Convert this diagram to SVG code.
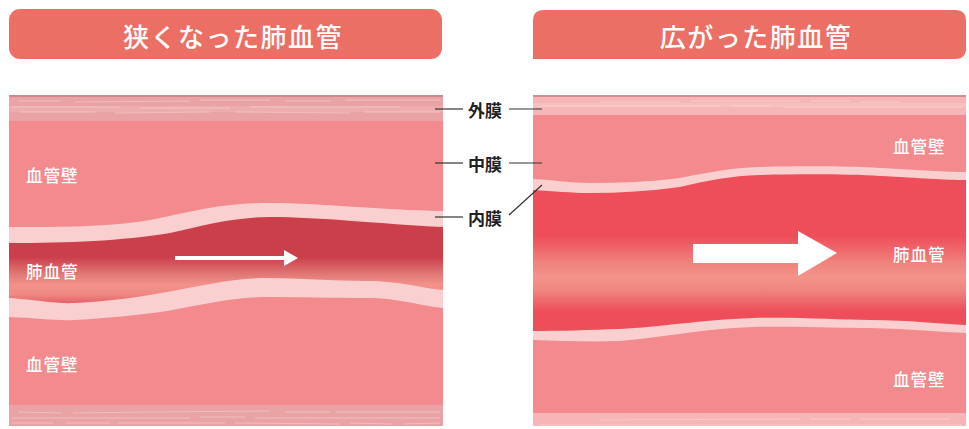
<svg xmlns="http://www.w3.org/2000/svg" width="969" height="429" viewBox="0 0 969 429">
  <style>
    .title { fill: #EB6F64; }
    .title-text { font-family: "Noto Sans CJK JP", "Noto Sans", sans-serif; font-size: 26px; font-weight: 500; fill: #FFFFFF; text-anchor: middle; dominant-baseline: central; letter-spacing: 1.5px; }
    .tissue-label { font-family: "Noto Sans CJK JP", "Noto Sans", sans-serif; font-size: 16.5px; font-weight: 500; fill: #FFFFFF; dominant-baseline: central; letter-spacing: 1px; }
    .layer-label { font-family: "Noto Sans CJK JP", "Noto Sans", sans-serif; font-size: 17px; font-weight: bold; fill: #222222; dominant-baseline: central; }
    .media { fill: #F38B8E; }
    .intima { fill: #F9CFCF; }
    .leader { stroke: #333333; stroke-width: 1.2; fill: none; }
    .streak { stroke: #FFFFFF; stroke-width: 1; opacity: 0.3; }
  </style>
  <defs>
    <linearGradient id="lumenNarrow" gradientUnits="userSpaceOnUse" x1="0" y1="200" x2="0" y2="310">
      <stop offset="0" stop-color="#CB3F4B"/>
      <stop offset="0.52" stop-color="#CB3F4B"/>
      <stop offset="0.68" stop-color="#E27A77"/>
      <stop offset="0.77" stop-color="#F2928A"/>
      <stop offset="0.86" stop-color="#EE8883"/>
      <stop offset="0.97" stop-color="#E24E5B"/>
    </linearGradient>
    <linearGradient id="lumenWide" gradientUnits="userSpaceOnUse" x1="0" y1="165" x2="0" y2="335">
      <stop offset="0" stop-color="#EE4E5A"/>
      <stop offset="0.42" stop-color="#EE4E5A"/>
      <stop offset="0.58" stop-color="#F0847E"/>
      <stop offset="0.66" stop-color="#F3938A"/>
      <stop offset="0.74" stop-color="#F0847E"/>
      <stop offset="0.86" stop-color="#EE4E5A"/>
      <stop offset="1" stop-color="#EE4E5A"/>
    </linearGradient>
    <clipPath id="clipNarrow"><rect x="9" y="95" width="434" height="331"/></clipPath>
    <clipPath id="clipWide"><rect x="533" y="95" width="433" height="331"/></clipPath>
  </defs>

  <!-- headings -->
  <g id="title-narrow">
    <rect class="title" x="9" y="9" width="433" height="50" rx="11"/>
    <text class="title-text" x="233" y="35">狭くなった肺血管</text>
  </g>
  <g id="title-wide">
    <path class="title" d="M533,59 V21 Q533,10 544,10 H955 Q966,10 966,21 V48 Q966,59 955,59 Z"/>
    <text class="title-text" x="756" y="35">広がった肺血管</text>
  </g>

  <!-- narrowed vessel -->
  <g id="vessel-narrow" clip-path="url(#clipNarrow)">
    <rect class="media" x="9" y="95" width="434" height="331"/>
    <path class="intima" d="M9,227 C60,227 110,227 150,220 C190,212 220,203 270,203 C320,203 380,210 443,211 L443,426 L9,426 Z"/>
    <path fill="url(#lumenNarrow)" d="M9,243 C70,243 120,241 170,233 C205,225 235,217 270,217 C320,217 380,224 443,227 L443,426 L9,426 Z"/>
    <path class="intima" d="M9,298 C40,300 55,304 75,303 C110,301 140,297 167,292 C200,286 235,278 267,278 C300,278 330,281 367,281 C400,281 420,288 443,290 L443,426 L9,426 Z"/>
    <path class="media" d="M9,317 C40,318 55,321 75,320 C110,318 140,315 167,311 C200,305 235,297 267,297 C300,297 330,298 367,298 C400,298 420,306 443,308 L443,426 L9,426 Z"/>
    <!-- adventitia, top -->
    <rect x="9" y="95" width="434" height="26" fill="#E9A3A5"/>
    <rect x="9" y="95" width="434" height="2" fill="#CF878B"/>
    <rect x="9" y="106" width="434" height="6" fill="#EEB1B2" opacity="0.7"/>
    <g class="streak">
      <line x1="18" y1="101" x2="60" y2="101"/><line x1="75" y1="102" x2="190" y2="101"/>
      <line x1="200" y1="100" x2="270" y2="100"/><line x1="285" y1="101" x2="330" y2="101"/>
      <line x1="345" y1="100" x2="440" y2="100"/><line x1="12" y1="107" x2="120" y2="107"/>
      <line x1="140" y1="108" x2="230" y2="108"/><line x1="250" y1="107" x2="400" y2="107"/>
      <line x1="20" y1="112" x2="95" y2="112"/><line x1="115" y1="113" x2="210" y2="112"/>
      <line x1="235" y1="112" x2="350" y2="113"/><line x1="365" y1="112" x2="440" y2="112"/>
    </g>
    <!-- adventitia, bottom -->
    <rect x="9" y="405" width="434" height="21" fill="#E9A3A5"/>
    <g class="streak">
      <line x1="18" y1="412" x2="62" y2="413"/><line x1="73" y1="413" x2="150" y2="412"/>
      <line x1="150" y1="412" x2="270" y2="411"/><line x1="285" y1="412" x2="330" y2="412"/>
      <line x1="336" y1="412" x2="440" y2="412"/><line x1="12" y1="418" x2="190" y2="418"/>
      <line x1="200" y1="417" x2="245" y2="417"/><line x1="255" y1="418" x2="440" y2="418"/>
      <line x1="12" y1="423" x2="53" y2="423"/><line x1="66" y1="423" x2="110" y2="423"/>
      <line x1="118" y1="423" x2="225" y2="423"/><line x1="235" y1="423" x2="340" y2="424"/>
      <line x1="350" y1="423" x2="392" y2="424"/><line x1="403" y1="424" x2="440" y2="423"/>
    </g>
  </g>
  <g id="arrow-narrow">
    <line x1="175" y1="258" x2="286" y2="258" stroke="#FFFFFF" stroke-width="4"/>
    <polygon points="284,250 298,258 284,266" fill="#FFFFFF"/>
  </g>
  <g id="labels-narrow">
    <text class="tissue-label" x="26" y="175">血管壁</text>
    <text class="tissue-label" x="26" y="271">肺血管</text>
    <text class="tissue-label" x="26" y="364">血管壁</text>
  </g>

  <!-- widened vessel -->
  <g id="vessel-wide" clip-path="url(#clipWide)">
    <rect class="media" x="533" y="95" width="433" height="331"/>
    <path class="intima" d="M533,179 C555,180 570,183 590,183 C620,183 650,182 680,178 C710,172 730,168 760,167 C800,166 850,166 880,168 C920,170 945,172 966,172 L966,426 L533,426 Z"/>
    <path fill="url(#lumenWide)" d="M533,190 C555,191 570,193 590,193 C620,193 650,191 680,187 C710,180 730,176 760,175 C800,174 850,174 880,176 C920,178 945,180 966,180 L966,426 L533,426 Z"/>
    <path class="intima" d="M533,331 C560,331 590,330 620,329 C660,327 700,320 753,318 C800,317 840,320 870,320 C910,320 940,324 966,325 L966,426 L533,426 Z"/>
    <path class="media" d="M533,340 C560,341 590,342 620,341 C660,338 700,329 753,327 C800,326 840,328 870,328 C910,329 940,332 966,333 L966,426 L533,426 Z"/>
    <!-- adventitia, top -->
    <rect x="533" y="95" width="433" height="20" fill="#F6B5B6"/>
    <rect x="533" y="95" width="433" height="2" fill="#D98C90"/>
    <rect x="533" y="103" width="433" height="4" fill="#F8C2C3" opacity="0.8"/>
    <g class="streak">
      <line x1="600" y1="102" x2="680" y2="102"/><line x1="690" y1="101" x2="800" y2="101"/>
      <line x1="810" y1="101" x2="850" y2="101"/><line x1="860" y1="102" x2="900" y2="102"/>
      <line x1="540" y1="106" x2="720" y2="106"/><line x1="730" y1="106" x2="770" y2="106"/>
      <line x1="783" y1="107" x2="962" y2="107"/>
    </g>
    <!-- adventitia, bottom -->
    <rect x="533" y="413" width="433" height="13" fill="#F6B5B6"/>
    <g class="streak">
      <line x1="600" y1="420" x2="800" y2="419"/><line x1="810" y1="419" x2="850" y2="419"/>
      <line x1="860" y1="419" x2="950" y2="419"/><line x1="540" y1="425" x2="962" y2="425"/>
    </g>
  </g>
  <g id="arrow-wide">
    <polygon points="693,244 798,244 798,231 837,253 798,276 798,263 693,263" fill="#FFFFFF"/>
  </g>
  <g id="labels-wide">
    <text class="tissue-label" x="893" y="146">血管壁</text>
    <text class="tissue-label" x="893" y="254">肺血管</text>
    <text class="tissue-label" x="893" y="379">血管壁</text>
  </g>

  <!-- layer names -->
  <g id="label-adventitia"><text class="layer-label" x="468" y="109">外膜</text></g>
  <g id="label-media"><text class="layer-label" x="468" y="163">中膜</text></g>
  <g id="label-intima"><text class="layer-label" x="468" y="217">内膜</text></g>

  <!-- leader lines -->
  <g id="connectors" class="leader">
    <line x1="435" y1="109" x2="463" y2="109"/>
    <line x1="509" y1="109" x2="542" y2="109"/>
    <line x1="435" y1="163" x2="463" y2="163"/>
    <line x1="509" y1="163" x2="542" y2="163"/>
    <line x1="435" y1="217" x2="463" y2="217"/>
    <line x1="509" y1="215" x2="542" y2="185"/>
  </g>
</svg>
